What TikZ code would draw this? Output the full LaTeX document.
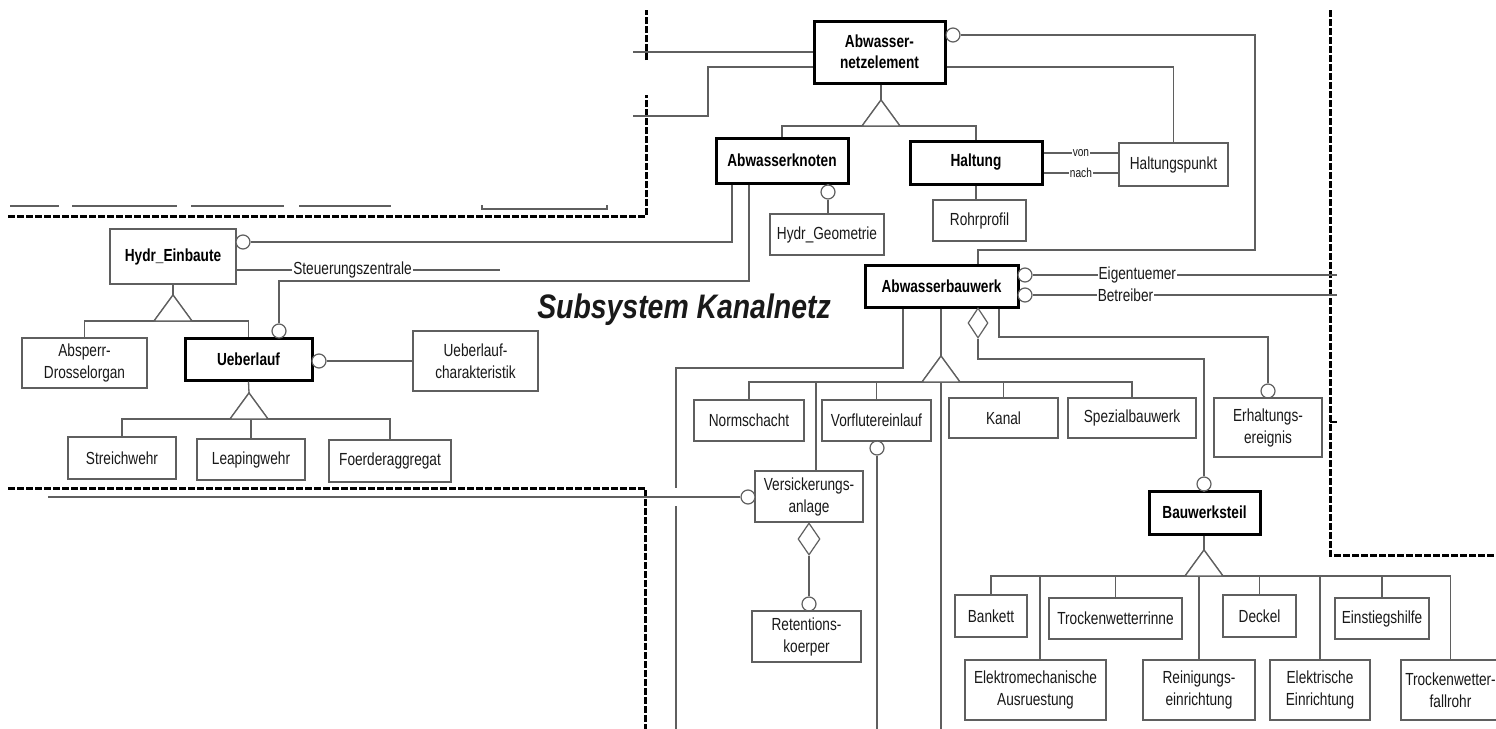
\documentclass[tikz,border=0pt]{standalone}
\usepackage{fontspec}
\setmainfont{Liberation Sans}[FakeStretch=0.78]
\newfontfamily\titlefont{Liberation Sans}[FakeStretch=0.835]
\usetikzlibrary{shapes.geometric}
\definecolor{lc}{RGB}{95,95,95}
\definecolor{tc}{RGB}{25,25,25}
\tikzset{
  ln/.style={draw=lc, line width=1.3pt},
  ebox/.style={draw=lc, line width=1.3pt, fill=white, align=center, inner sep=0pt, text=tc, font=\fontsize{17.5}{22}\selectfont},
  kbox/.style={draw=black, line width=3pt, fill=white, align=center, inner sep=0pt, text=black, font=\bfseries\fontsize{17.5}{21}\selectfont},
  bfont/.style={font=\bfseries\fontsize{17.5}{21}\selectfont, text=black},
  opt/.style={circle, draw=lc, line width=1.2pt, fill=white, minimum size=14pt, inner sep=0pt},
  agg/.style={diamond, draw=lc, line width=1.2pt, fill=white, minimum width=20pt, minimum height=30pt, inner sep=0pt},
  bnd/.style={draw=black, line width=3pt, dash pattern=on 7pt off 2pt},
  gen/.style={draw=lc, line width=1.3pt, fill=white},
  lbl/.style={fill=white, inner sep=1pt, text=tc, font=\fontsize{17.5}{21}\selectfont},
  slbl/.style={fill=white, inner sep=1pt, text=tc, font=\fontsize{13}{15}\selectfont},
}
\newcommand\bx[7]{\node[#6, minimum width={(#4-#2)*1pt}, minimum height={(#5-#3)*1pt}] (#1) at ({(#2+#4)/2},{(#3+#5)/2}) {#7};}
\newcommand\gtri[3]{\coordinate (#1) at (#2,#3); \coordinate (#1b) at (#2,#3+26); \draw[gen] (#1) -- ++(-19,26) -- ++(38,0) -- cycle;}
\begin{document}
\begin{tikzpicture}[x=1pt,y=-1pt]
\fill[white] (0,0) rectangle (1496,728);
\useasboundingbox (0,0) rectangle (1496,728);

% subsystem boundaries
\draw[bnd] (8,216) -- (646,216) -- (646,95);
\draw[bnd] (646,60) -- (646,10);
\draw[bnd] (8,488) -- (645,488) -- (645,730);
\draw[bnd] (1330,10) -- (1330,555) -- (1500,555);
\draw[black, line width=2pt] (1330,422) -- (1337,422);
% cut-off boxes of neighbouring subsystem
\draw[ln] (10,206) -- (59,206);
\draw[ln] (72,206) -- (177,206);
\draw[ln] (191,206) -- (284,206);
\draw[ln] (299,206) -- (391,206);
\draw[ln] (482,205) -- (482,209) -- (607,209) -- (607,205);

% nodes
\bx{anz}{814}{21}{945}{83}{kbox}{Abwasser-\\netzelement}
\bx{abk}{716}{138}{848}{183}{kbox}{Abwasserknoten}
\bx{hal}{910}{141}{1042}{184}{kbox}{Haltung}
\bx{hpk}{1119}{143}{1228}{186}{ebox}{Haltungspunkt}
\bx{rpf}{933}{200}{1026}{241}{ebox}{Rohrprofil}
\bx{hgeo}{770}{214}{884}{255}{ebox}{Hydr\_Geometrie}
\bx{hein}{110}{229}{236}{284}{ebox,bfont}{Hydr\_Einbaute}
\bx{abs}{22}{338}{147}{388}{ebox}{Absperr-\\Drosselorgan}
\bx{ueb}{185}{338}{312}{380}{kbox}{Ueberlauf}
\bx{uebc}{413}{331}{538}{391}{ebox}{Ueberlauf-\\charakteristik}
\bx{stw}{68}{437}{176}{479}{ebox}{Streichwehr}
\bx{lpw}{197}{439}{305}{480}{ebox}{Leapingwehr}
\bx{foe}{329}{440}{451}{482}{ebox}{Foerderaggregat}
\bx{abw}{865}{265}{1018}{307}{kbox}{Abwasserbauwerk}
\bx{nsc}{694}{400}{804}{441}{ebox}{Normschacht}
\bx{vfe}{822}{400}{931}{441}{ebox}{Vorflutereinlauf}
\bx{kan}{949}{398}{1058}{438}{ebox}{Kanal}
\bx{spz}{1068}{398}{1196}{438}{ebox}{Spezialbauwerk}
\bx{erh}{1214}{398}{1322}{457}{ebox}{Erhaltungs-\\ereignis}
\bx{bwt}{1149}{491}{1260}{534}{kbox}{Bauwerksteil}
\bx{vsa}{755}{471}{863}{522}{ebox}{Versickerungs-\\anlage}
\bx{ret}{752}{611}{861}{662}{ebox}{Retentions-\\koerper}
\bx{ban}{955}{595}{1027}{637}{ebox}{Bankett}
\bx{twr}{1049}{598}{1182}{639}{ebox}{Trockenwetterrinne}
\bx{dek}{1223}{595}{1296}{637}{ebox}{Deckel}
\bx{ein}{1335}{598}{1429}{639}{ebox}{Einstiegshilfe}
\bx{ema}{965}{660}{1106}{720}{ebox}{Elektromechanische\\Ausruestung}
\bx{rei}{1143}{660}{1255}{720}{ebox}{Reinigungs-\\einrichtung}
\bx{ele}{1270}{660}{1370}{720}{ebox}{Elektrische\\Einrichtung}
\bx{tfr}{1401}{660}{1500}{720}{ebox}{Trockenwetter-\\fallrohr}

\node[anchor=base, text=tc, font=\titlefont\bfseries\itshape\fontsize{34}{34}\selectfont] (title) at (684,318) {Subsystem Kanalnetz};

% optional markers
\node[opt] (canz) at (953,35) {};
\node[opt] (chein) at (243,242) {};
\node[opt] (cuebt) at (279,331) {};
\node[opt] (cuebr) at (319,361) {};
\node[opt] (chgeo) at (828,192) {};
\node[opt] (cvfe) at (877,448) {};
\node[opt] (cvsa) at (748,497) {};
\node[opt] (cret) at (809,604) {};
\node[opt] (cerh) at (1268,391) {};
\node[opt] (cbwt) at (1204,484) {};
\node[opt] (ceig) at (1025,275) {};
\node[opt] (cbet) at (1025,295) {};

% free ends
\coordinate (e1) at (633,52);
\coordinate (e2) at (633,116);
\coordinate (e3) at (500,270);
\coordinate (e4) at (1337,275);
\coordinate (e5) at (1337,295);
\coordinate (e6) at (48,497);
\coordinate (e7) at (676,730);
\coordinate (e8) at (941,730);
\coordinate (e9) at (877,730);

% Abwassernetzelement
\gtri{t1}{881}{100}
\draw[ln] (anz.south -| t1) -- (t1);
\draw[ln] (abk.north) -- (abk.north |- t1b) -- (hal.north |- t1b) -- (hal.north);
\draw[ln] (anz.east |- 0,67) -| (hpk.north);
\draw[ln] (canz.east) -- (1255,35) -- (1255,250) -- (978,250) -- (abw.north -| 978,0);
\draw[ln] (anz.west |- e1) -- (e1);
\draw[ln] (anz.west |- 0,67) -- (708,67) -- (708,116) -- (e2);
\draw[ln] (hal.east |- 0,153) -- node[slbl]{von} (hpk.west |- 0,153);
\draw[ln] (hal.east |- 0,173) -- node[slbl]{nach} (hpk.west |- 0,173);
\draw[ln] (hal.south) -- (hal.south |- rpf.north);
\draw[ln] (chgeo.north) -- (abk.south -| chgeo.north);
\draw[ln] (chgeo.south) -- (hgeo.north -| chgeo.south);

% Abwasserknoten to Hydr_Einbaute / Ueberlauf
\draw[ln] (abk.south -| 732,0) -- (732,242) -- (chein.east);
\draw[ln] (abk.south -| 749,0) -- (749,281) -- (279,281) -- (cuebt.north);
\draw[ln] (hein.east |- e3) -- node[lbl, pos=0.44]{Steuerungszentrale} (e3);

% Hydr_Einbaute generalisation
\gtri{t2}{173}{295}
\draw[ln] (hein.south) -- (t2);
\draw[ln] (abs.north) -- (abs.north |- t2b) -- (ueb.north |- t2b) -- (ueb.north);
\draw[ln] (cuebr.east) -- (uebc.west |- cuebr);

% Ueberlauf generalisation
\gtri{t3}{249}{393}
\draw[ln] (ueb.south) -- (t3);
\draw[ln] (stw.north) -- (stw.north |- t3b) -- (foe.north |- t3b) -- (foe.north);
\draw[ln] (lpw.north) -- (lpw.north |- t3b);

% Abwasserbauwerk
\draw[ln] (ceig.east) -- node[lbl, pos=0.344]{Eigentuemer} (e4);
\draw[ln] (cbet.east) -- node[lbl, pos=0.305]{Betreiber} (e5);
\draw[ln] (abw.south -| 903,0) -- (903,368) -- (676,368) -- (676,488);
\draw[ln] (676,506) -- (e7);
\gtri{t4}{941}{356}
\draw[ln] (abw.south -| t4) -- (t4);
\draw[ln] (nsc.north) -- (nsc.north |- t4b) -- (spz.north |- t4b) -- (spz.north);
\draw[ln] (vfe.north) -- (vfe.north |- t4b);
\draw[ln] (kan.north) -- (kan.north |- t4b);
\draw[ln] (vsa.north -| 816,0) -- (816,382);
\draw[ln] (t4b) -- (e8);
\draw[ln] (vfe.south) -- (cvfe.north);
\draw[ln] (cvfe.south) -- (e9);
\node[agg] (dabw) at (978,323) {};
\draw[ln] (dabw.south) -- (978,359) -- (1204,359) -- (cbwt.north);
\draw[ln] (abw.south -| 999,0) -- (999,337) -- (1268,337) -- (cerh.north);
\draw[ln] (cerh.south) -- (erh.north -| cerh.south);
\draw[ln] (cbwt.south) -- (bwt.north -| cbwt.south);

% Versickerungsanlage
\draw[ln] (e6) -- (cvsa.west);
\node[agg, minimum width=22pt, minimum height=32pt] (dvsa) at (809,539) {};
\draw[ln] (dvsa.south) -- (cret.north);
\draw[ln] (cret.south) -- (ret.north -| cret.south);

% Bauwerksteil generalisation
\gtri{t5}{1204}{550}
\draw[ln] (bwt.south -| t5) -- (t5);
\draw[ln] (ban.north) -- (ban.north |- t5b) -- (tfr.north |- t5b) -- (tfr.north);
\draw[ln] (ema.north -| 1040,0) -- (1040,575);
\draw[ln] (twr.north) -- (twr.north |- t5b);
\draw[ln] (rei.north) -- (rei.north |- t5b);
\draw[ln] (dek.north) -- (dek.north |- t5b);
\draw[ln] (ele.north) -- (ele.north |- t5b);
\draw[ln] (ein.north) -- (ein.north |- t5b);

% triangles on top of base lines
\draw[gen] (t1) -- ++(-19,26) -- ++(38,0) -- cycle;
\draw[gen] (t2) -- ++(-19,26) -- ++(38,0) -- cycle;
\draw[gen] (t3) -- ++(-19,26) -- ++(38,0) -- cycle;
\draw[gen] (t4) -- ++(-19,26) -- ++(38,0) -- cycle;
\draw[gen] (t5) -- ++(-19,26) -- ++(38,0) -- cycle;
\end{tikzpicture}
\end{document}
